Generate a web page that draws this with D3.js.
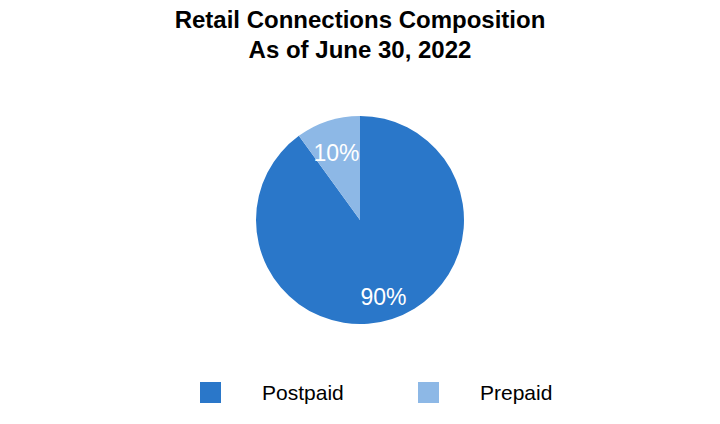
<!DOCTYPE html>
<html><head><meta charset="utf-8">
<script src="https://cdn.jsdelivr.net/npm/d3@7"></script>
<style>body{margin:0;background:#fff}svg{display:block}text{font-family:"Liberation Sans",Arial,sans-serif}</style>
</head><body>
<svg id="c" width="720" height="424"></svg>
<script>
const categories = ["Postpaid", "Prepaid"];
const values = [90, 10];
const labels = ["90%", "10%"];
const colors = ["#2a77c9", "#8db8e6"];
const titleLines = ["Retail Connections Composition", "As of June 30, 2022"];

const svg = d3.select("#c");
const cx = 360, cy = 220, R = 104;

svg.selectAll("text.title").data(titleLines).enter().append("text")
  .attr("class","title").attr("x",360).attr("y",(d,i)=>28+i*29.5)
  .attr("text-anchor","middle").attr("font-size",24).attr("font-weight","bold")
  .attr("fill","#000").text(d=>d);

const data = categories.map((c,i)=>({cat:c,value:values[i],label:labels[i],color:colors[i]}));
const pie = d3.pie().value(d=>d.value).sort(null);
const arcs = pie(data);
const arc = d3.arc().innerRadius(0).outerRadius(R);
const labelArc = d3.arc().innerRadius(76).outerRadius(76);

const g = svg.append("g").attr("transform",`translate(${cx},${cy})`);
g.selectAll("path").data(arcs).enter().append("path")
  .attr("d",arc).attr("fill",d=>d.data.color);
g.selectAll("text").data(arcs).enter().append("text")
  .attr("transform",d=>`translate(${labelArc.centroid(d)})`)
  .attr("text-anchor","middle").attr("dy",13)
  .attr("font-size",23).attr("fill","#fff").text(d=>d.data.label);

const legX = [200, 418];
const leg = svg.selectAll("g.leg").data(data).enter().append("g").attr("class","leg")
  .attr("transform",(d,i)=>`translate(${legX[i]},382)`);
leg.append("rect").attr("width",21).attr("height",21).attr("fill",d=>d.color);
leg.append("text").attr("x",62).attr("y",18).attr("font-size",21).attr("fill","#000").text(d=>d.cat);
</script>
</body></html>
